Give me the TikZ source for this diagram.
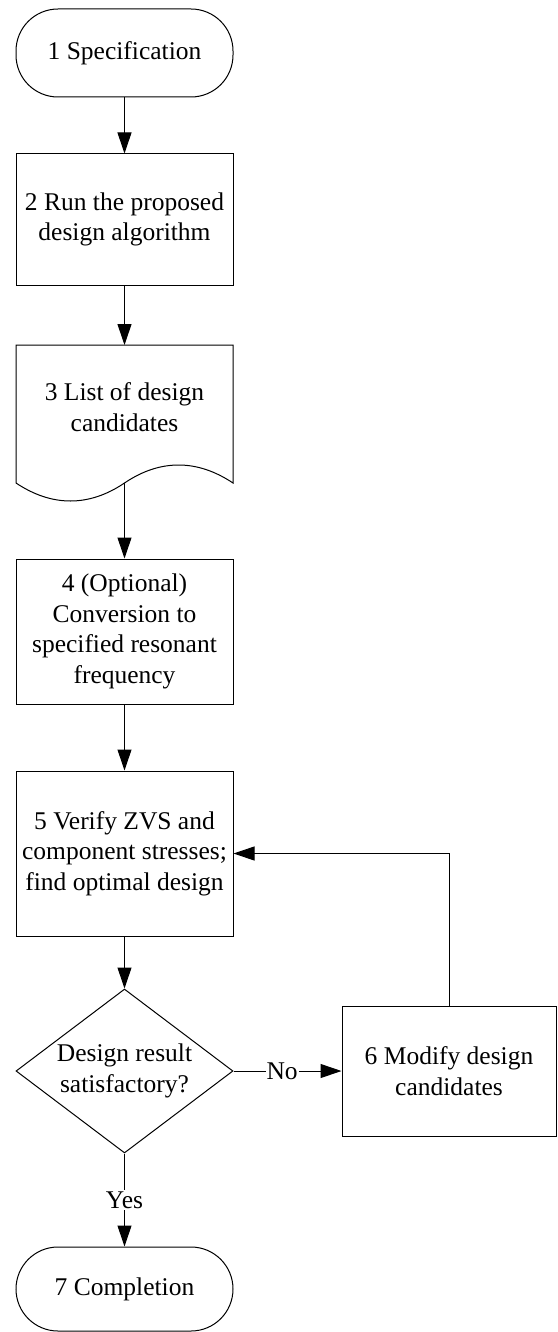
\documentclass[tikz,border=0pt]{standalone}
\usepackage{fontspec}
\setmainfont{Liberation Serif}
\usetikzlibrary{shapes.geometric, arrows.meta, positioning}

\begin{document}
\begin{tikzpicture}[x=1pt, y=1pt, line width=1pt,
		every node/.style={font=\fontsize{25.5}{30.5}\selectfont, align=center},
		box/.style={draw, rectangle, minimum width=217pt, inner sep=0pt},
		term/.style={draw, rectangle, rounded corners=42pt, minimum width=217pt, inner sep=0pt},
		dec/.style={draw, diamond, shape aspect=1.32, minimum width=217pt, minimum height=164pt, inner sep=0pt},
		flow/.style={-{Triangle[length=21pt, width=14pt]}}]
				
				\useasboundingbox (0,0) rectangle (557,-1332);
				
				\node [term, minimum height=88pt] (spec) at (124.5,-53) {1 Specification};
				\node [box, minimum height=131pt] (run) at (124.5,-219.5) {2 Run the proposed\\design algorithm};
				
				% document shape
				\draw (16,-483) -- (16,-345) -- (233,-345) -- (233,-483)
					.. controls (197,-459) and (160,-459) .. (124.5,-483)
					.. controls (89,-507) and (52,-507) .. (16,-483);
				\coordinate (listtop) at (124.5,-345);
				\coordinate (listbot) at (124.5,-483);
				\node (list) at (124.5,-407) {3 List of design\\candidates};
				
				\node [box, minimum height=145pt] (conv) at (124.5,-631.5) {4 (Optional)\\Conversion to\\specified resonant\\frequency};
				\node [box, minimum height=165pt] (verify) at (124.5,-853.5) {5 Verify ZVS and\\component stresses;\\find optimal design};
				\node [dec] (check) at (124.5,-1071) {Design result\\satisfactory?};
				\node [box, minimum width=214pt, minimum height=130pt] (modify) at (449,-1071) {6 Modify design\\candidates};
				\node [term, minimum height=84pt] (done) at (124.5,-1289) {7 Completion};
				
				\draw [flow] (spec) -- (run);
				\draw [flow] (run) -- (listtop);
				\draw [flow] (listbot) -- (conv);
				\draw [flow] (conv) -- (verify);
				\draw [flow] (verify) -- (check);
				\draw [flow] (check) -- node [pos=0.45, fill=white, inner sep=1pt] (no) {No} (modify);
				\draw [flow] (modify.north) |- (verify.east);
				\draw [flow] (check) -- node [fill=white, inner sep=2pt] (yes) {Yes} (done);
		\end{tikzpicture}
\end{document}
